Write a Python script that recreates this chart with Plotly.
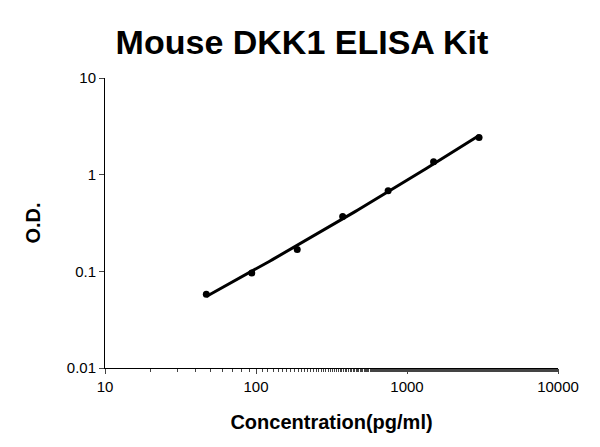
import numpy as np
import plotly.graph_objects as go

conc = [46.875, 93.75, 187.5, 375, 750, 1500, 3000]
od = [0.058, 0.096, 0.168, 0.37, 0.68, 1.36, 2.42]

# smooth fit in log-log space
lx, ly = np.log10(conc), np.log10(od)
coef = np.polyfit(lx, ly, 2)
fx = np.linspace(lx.min(), lx.max(), 100)
fy = np.polyval(coef, fx)

fig = go.Figure()
fig.add_trace(go.Scatter(x=10 ** fx, y=10 ** fy, mode="lines",
                         line=dict(color="black", width=3), showlegend=False))
fig.add_trace(go.Scatter(x=conc, y=od, mode="markers",
                         marker=dict(color="black", size=7), showlegend=False))

ax = dict(type="log", showline=True, linecolor="black", linewidth=1,
          ticks="outside", ticklen=5, showgrid=False, zeroline=False,
          tickfont=dict(family="Arial", size=15, color="black"))

fig.update_xaxes(ax, range=[1, 4], tickvals=[10, 100, 1000, 10000],
                 ticktext=["10", "100", "1000", "10000"],
                 minor=dict(ticks="outside", ticklen=3, showgrid=False),
                 title=dict(text="<b>Concentration(pg/ml)</b>", standoff=20,
                            font=dict(family="Arial", size=20, color="black")))
fig.update_yaxes(ax, range=[-2, 1], tickvals=[0.01, 0.1, 1, 10],
                 ticktext=["0.01", "0.1", "1", "10"],
                 title=dict(text="<b>O.D.</b>", standoff=20,
                            font=dict(family="Arial", size=20, color="black")))

fig.update_layout(
    width=600, height=447, plot_bgcolor="white", paper_bgcolor="white",
    title=dict(text="<b>Mouse DKK1 ELISA Kit</b>", x=0.49, xanchor="center", y=0.95,
               font=dict(family="Arial", size=34, color="black")),
    margin=dict(l=97, r=50, t=70, b=87),
)
fig.write_html("out.html")
